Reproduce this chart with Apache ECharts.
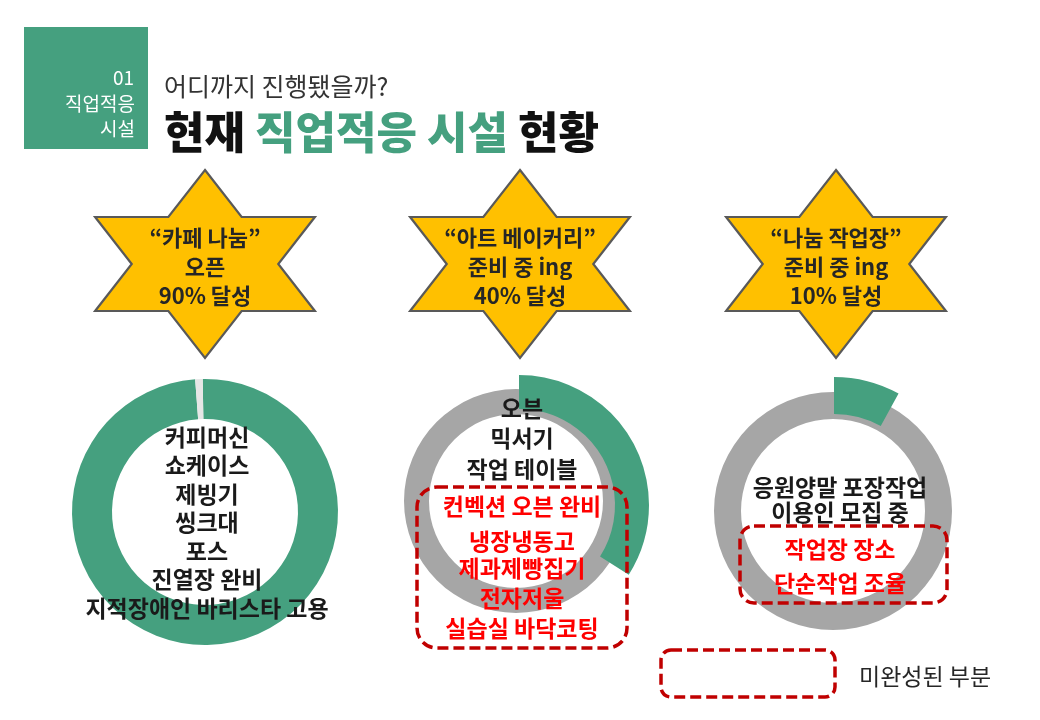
<!DOCTYPE html>
<html>
<head>
<meta charset="utf-8">
<script src="https://cdn.jsdelivr.net/npm/echarts@6/dist/echarts.min.js"></script>
<style>
html,body{margin:0;padding:0;background:#fff;}
#c{width:1040px;height:720px;}
</style>
</head>
<body>
<div id="c"></div>
<script>
// ---- data ----
const facilities = ['카페 나눔', '아트 베이커리', '나눔 작업장'];
const starLines = [
  ['“카페 나눔”', '오픈', '90% 달성'],
  ['“아트 베이커리”', '준비 중 ing', '40% 달성'],
  ['“나눔 작업장”', '준비 중 ing', '10% 달성']
];
// share of each ring drawn in green
const doneShare = [99.1, 34, 8];
const doneItems = [
  ['커피머신', '쇼케이스', '제빙기', '씽크대', '포스', '진열장 완비', '지적장애인 바리스타 고용'],
  ['오븐', '믹서기', '작업 테이블'],
  ['응원양말 포장작업', '이용인 모집 중']
];
const todoItems = [
  [],
  ['컨벡션 오븐 완비', '냉장냉동고', '제과제빵집기', '전자저울', '실습실 바닥코팅'],
  ['작업장 장소', '단순작업 조율']
];
const legendLabel = '미완성된 부분';
const sectionNo = '01';
const sectionName = ['직업적응', '시설'];
const subTitle = '어디까지 진행됐을까?';
const titleParts = [['현재 ', 'k'], ['직업적응 시설', 'g'], [' 현황', 'k']];

// ---- styling ----
const GREEN = '#45a07f';
const GREY = '#a6a6a6';
const GAP = '#e6e6e6';
const YELLOW = '#ffc000';
const RED = '#ff0000';
const DASH = '#c00000';
const FONT = '"Noto Sans CJK KR", "Noto Sans", sans-serif';

const chart = echarts.init(document.getElementById('c'), null, {renderer: 'canvas'});

function starPoints(cx, cy, R, sx) {
  const pts = [];
  for (let k = 0; k < 6; k++) {
    const a = (90 - 60 * k) * Math.PI / 180;
    pts.push([cx + sx * R * Math.cos(a), cy - R * Math.sin(a)]);
    const b = (60 - 60 * k) * Math.PI / 180;
    const r = R / Math.sqrt(3);
    pts.push([cx + sx * r * Math.cos(b), cy - r * Math.sin(b)]);
  }
  return pts;
}

const starCenters = [[205, 264], [520, 264], [836, 264]];
const graphics = [];

// header box
graphics.push({type: 'rect', shape: {x: 24, y: 27, width: 124, height: 122}, style: {fill: GREEN}, z: 10});
graphics.push({type: 'text', x: 134, y: 78, style: {text: sectionNo, fill: '#fff', font: '19px ' + FONT, textAlign: 'right', textVerticalAlign: 'middle'}, z: 11});
graphics.push({type: 'text', x: 135, y: 104, style: {text: sectionName[0], fill: '#fff', font: '19px ' + FONT, textAlign: 'right', textVerticalAlign: 'middle'}, z: 11});
graphics.push({type: 'text', x: 135, y: 129, style: {text: sectionName[1], fill: '#fff', font: '19px ' + FONT, textAlign: 'right', textVerticalAlign: 'middle'}, z: 11});
graphics.push({type: 'text', x: 164, y: 86, style: {text: subTitle, fill: '#333', font: '25px ' + FONT, textAlign: 'left', textVerticalAlign: 'middle'}, z: 11});
graphics.push({type: 'text', x: 164, y: 132, style: {
  text: titleParts.map(p => '{' + p[1] + '|' + p[0] + '}').join(''),
  textAlign: 'left', textVerticalAlign: 'middle',
  rich: {
    k: {fill: '#111', font: '900 44px ' + FONT},
    g: {fill: GREEN, font: '900 44px ' + FONT}
  }
}, z: 11});

// stars
starCenters.forEach((c, i) => {
  graphics.push({type: 'polygon', shape: {points: starPoints(c[0], c[1], 94, 1.35)},
    style: {fill: YELLOW, stroke: '#595959', lineWidth: 2.2}, z: 5});
  starLines[i].forEach((t, j) => {
    graphics.push({type: 'text', x: c[0], y: 238 + j * 29, style: {text: t, fill: '#262626', font: 'bold 22px ' + FONT, textAlign: 'center', textVerticalAlign: 'middle'}, z: 6});
  });
});

// donut texts
const textX = [207, 522, 840];
const doneY0 = [437, 408, 487];
const doneStep = [28.5, 30.5, 25.5];
doneItems.forEach((lines, i) => {
  lines.forEach((t, j) => {
    graphics.push({type: 'text', x: textX[i], y: doneY0[i] + j * doneStep[i], style: {text: t, fill: '#1a1a1a', font: 'bold 23px ' + FONT, textAlign: 'center', textVerticalAlign: 'middle'}, z: 20});
  });
});
const todoYs = [[], [506, 541, 568, 598, 628], [549, 583]];
todoItems.forEach((lines, i) => {
  lines.forEach((t, j) => {
    graphics.push({type: 'text', x: textX[i], y: todoYs[i][j], style: {text: t, fill: RED, font: 'bold 23px ' + FONT, textAlign: 'center', textVerticalAlign: 'middle'}, z: 20});
  });
});

// dashed boxes
const dashStyle = {fill: 'none', stroke: DASH, lineWidth: 3.5, lineDash: [11, 5]};
graphics.push({type: 'rect', shape: {x: 417, y: 487, width: 210, height: 161, r: 20}, style: dashStyle, z: 19});
graphics.push({type: 'rect', shape: {x: 740, y: 526, width: 207, height: 77, r: 14}, style: dashStyle, z: 19});
graphics.push({type: 'rect', shape: {x: 661, y: 650, width: 174, height: 47, r: 10}, style: dashStyle, z: 19});
graphics.push({type: 'text', x: 859, y: 676, style: {text: legendLabel, fill: '#262626', font: '23px ' + FONT, textAlign: 'left', textVerticalAlign: 'middle'}, z: 20});

const common = {type: 'pie', silent: true, label: {show: false}, labelLine: {show: false}, animation: false, startAngle: 90, clockwise: true, emphasis: {disabled: true}};

const series = [
  Object.assign({}, common, {
    name: facilities[0], center: [205, 512], radius: [93, 133], startAngle: 91,
    data: [
      {value: doneShare[0], itemStyle: {color: GREEN}},
      {value: 100 - doneShare[0], itemStyle: {color: GAP}}
    ]
  }),
  Object.assign({}, common, {
    name: facilities[1] + ' bg', center: [516, 501], radius: [87, 112],
    data: [{value: 100, itemStyle: {color: GREY}}]
  }),
  Object.assign({}, common, {
    name: facilities[1], center: [519, 505], radius: [96, 130],
    data: [
      {value: doneShare[1], itemStyle: {color: GREEN}},
      {value: 100 - doneShare[1], itemStyle: {color: 'rgba(0,0,0,0)'}}
    ]
  }),
  Object.assign({}, common, {
    name: facilities[2] + ' bg', center: [833, 511], radius: [92, 119],
    data: [{value: 100, itemStyle: {color: GREY}}]
  }),
  Object.assign({}, common, {
    name: facilities[2], center: [834, 511], radius: [97, 134],
    data: [
      {value: doneShare[2], itemStyle: {color: GREEN}},
      {value: 100 - doneShare[2], itemStyle: {color: 'rgba(0,0,0,0)'}}
    ]
  })
];

chart.setOption({
  backgroundColor: '#ffffff',
  animation: false,
  series: series,
  graphic: {elements: graphics}
});
</script>
</body>
</html>
